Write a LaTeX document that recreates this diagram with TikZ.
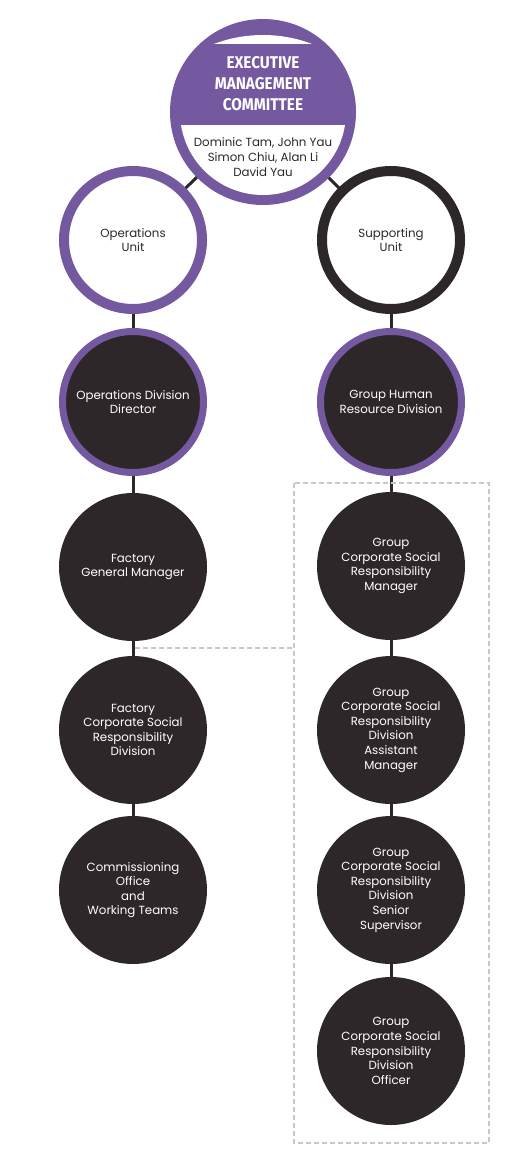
\documentclass[tikz,border=0pt]{standalone}
\usepackage{fontspec}
\setmainfont{Poppins}
\newfontfamily\titlefont[FakeStretch=0.9]{Fira Sans}
\usetikzlibrary{backgrounds}
\definecolor{purp}{HTML}{7459A0}
\definecolor{dark}{HTML}{2D2729}
\definecolor{dashgray}{HTML}{C8C8C8}
\begin{document}
\begin{tikzpicture}[x=1pt,y=-1pt,
  bodyfont/.style={font=\fontsize{11.8}{14.6}\selectfont},
  unitring/.style={circle, minimum size=138pt, inner sep=0pt, fill=white, draw=#1, line width=10pt, text=dark, align=center, bodyfont},
  purpring/.style={circle, minimum size=141pt, inner sep=0pt, fill=dark, draw=purp, line width=7pt, text=white, align=center, bodyfont},
  dot/.style={circle, minimum size=148pt, inner sep=0pt, fill=dark, text=white, align=center, bodyfont},
  link/.style={draw=dark, line width=3pt},
  dashbox/.style={draw=dashgray, line width=1.4pt, dash pattern=on 5pt off 3pt}]
\useasboundingbox (0,0) rectangle (525,1156);

% top committee circle
\node[circle, fill=purp, minimum size=186pt, inner sep=0pt] (exec) at (263,112) {};
\begin{scope}
  \clip (263,112) circle (83pt);
  \fill[white] (150,125) rectangle (380,210);
\end{scope}
\begin{scope}
  \clip (263,173) circle (138pt);
  \fill[white] (150,20) rectangle (380,44);
\end{scope}
\node[text=white, align=center, font=\titlefont\bfseries\fontsize{17}{21}\selectfont] (title) at (263,84) {EXECUTIVE\\MANAGEMENT\\COMMITTEE};
\node[text=dark, align=center, bodyfont] (names) at (263,157) {Dominic Tam, John Yau\\Simon Chiu, Alan Li\\David Yau};

% left column
\node[unitring=purp] (ops) at (133,240) {Operations\\Unit};
\node[purpring] (odd) at (133,402) {Operations Division\\Director};
\node[dot] (fgm) at (133,567) {Factory\\General Manager};
\node[dot] (fcsr) at (133,730) {Factory\\Corporate Social\\Responsibility\\Division};
\node[dot] (comm) at (133,890) {Commissioning\\Office\\and\\Working Teams};

% right column
\node[unitring=dark] (sup) at (391,240) {Supporting\\Unit};
\node[purpring] (ghr) at (391,402) {Group Human\\Resource Division};
\node[dot] (gmgr) at (391,566) {Group\\Corporate Social\\Responsibility\\Manager};
\node[dot] (gasst) at (391,730) {Group\\Corporate Social\\Responsibility\\Division\\Assistant\\Manager};
\node[dot] (gsen) at (391,890) {Group\\Corporate Social\\Responsibility\\Division\\Senior\\Supervisor};
\node[dot] (goff) at (391,1051) {Group\\Corporate Social\\Responsibility\\Division\\Officer};

% dashed grouping
\coordinate (dl) at (135,648);
\coordinate (dr) at (294,648);
\draw[dashbox] (294,483) rectangle (489,1143);
\draw[dashbox] (dl) -- (dr);

\begin{scope}[on background layer]
  \draw[link] (exec.center) -- (ops.center);
  \draw[link] (exec.center) -- (sup.center);
  \draw[link] (ops) -- (odd);
  \draw[link] (odd) -- (fgm);
  \draw[link] (fgm) -- (fcsr);
  \draw[link] (fcsr) -- (comm);
  \draw[link] (sup) -- (ghr);
  \draw[link] (ghr) -- (gmgr);
  \draw[link] (gmgr) -- (gasst);
  \draw[link] (gasst) -- (gsen);
  \draw[link] (gsen) -- (goff);
\end{scope}
\end{tikzpicture}
\end{document}
